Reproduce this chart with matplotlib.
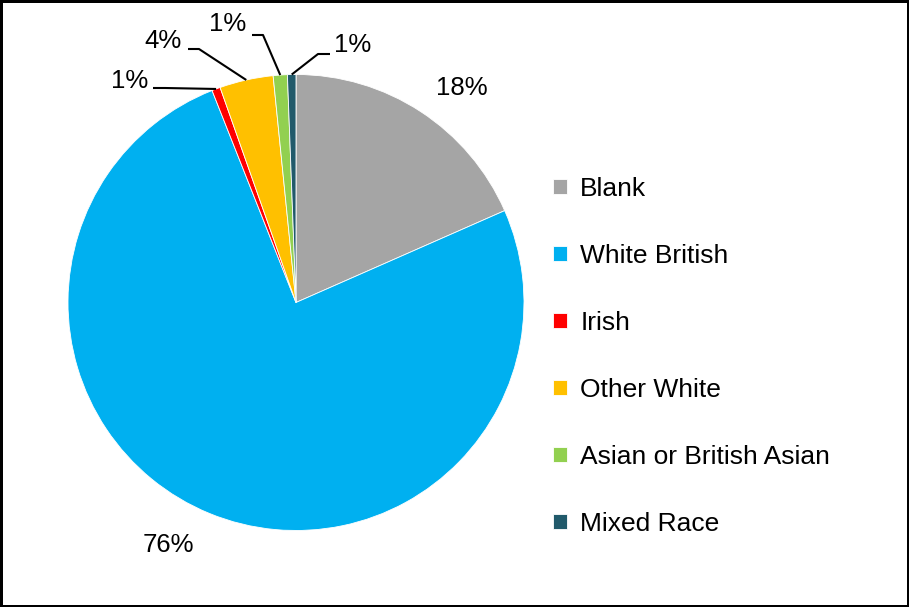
import numpy as np
import matplotlib
matplotlib.use("Agg")
import matplotlib.pyplot as plt

plt.rcParams['font.family'] = ['Liberation Sans', 'DejaVu Sans']

categories = ["Blank", "White British", "Irish", "Other White",
              "Asian or British Asian", "Mixed Race"]
shares = [18.4, 75.6, 0.6, 3.8, 1.0, 0.6]
colors = ["#A5A5A5", "#00B0F0", "#FF0000", "#FFC000", "#92D050", "#215A6B"]

W, H = 909, 607
cx, cy, r = 296, 302.5, 228

# label placement in pixel coords (top-left origin): text centre, leader start, elbow
label_pos = [(462, 88), (168, 545), (130, 81), (163, 41), (228, 24), (353, 45)]
leaders = [None, None,
           [(153, 88), (165, 88)],
           [(188, 49), (199, 49)],
           [(252, 35), (263, 35)],
           [(330, 54), (318, 54)]]


def px(x, y):
    return x, H - y


fig = plt.figure(figsize=(W / 100, H / 100), dpi=100,
                 linewidth=2.5, edgecolor="black")
ax = fig.add_axes([0, 0, 1, 1])

wedges, _ = ax.pie(shares, colors=colors, startangle=90, counterclock=False,
                   center=px(cx, cy), radius=r,
                   wedgeprops=dict(edgecolor="white", linewidth=0.6))
ax.set_xlim(0, W)
ax.set_ylim(0, H)
ax.set_aspect("auto")
ax.axis("off")

total = sum(shares)
for i, (w, val) in enumerate(zip(wedges, shares)):
    tx, ty = px(*label_pos[i])
    pct = max(1, round(val / total * 100))
    ax.text(tx, ty, "%d%%" % pct,
            ha="center", va="center", fontsize=18.5, color="black")
    if leaders[i] is not None:
        mid = np.deg2rad((w.theta1 + w.theta2) / 2)
        ox, oy = px(cx, cy)
        anchor = (ox + r * np.cos(mid), oy + r * np.sin(mid))
        pts = [px(*p) for p in leaders[i]] + [anchor]
        xs, ys = zip(*pts)
        ax.plot(xs, ys, color="black", linewidth=1.5, solid_capstyle="butt")

ax.legend(wedges, categories, loc="upper left",
          bbox_to_anchor=(553 / W, 1 - 177 / H), frameon=False,
          fontsize=19, handlelength=0.53, handleheight=0.53,
          handletextpad=0.5, labelspacing=1.63, borderpad=0, borderaxespad=0)

fig.savefig("out.png", dpi=100, edgecolor=fig.get_edgecolor())
